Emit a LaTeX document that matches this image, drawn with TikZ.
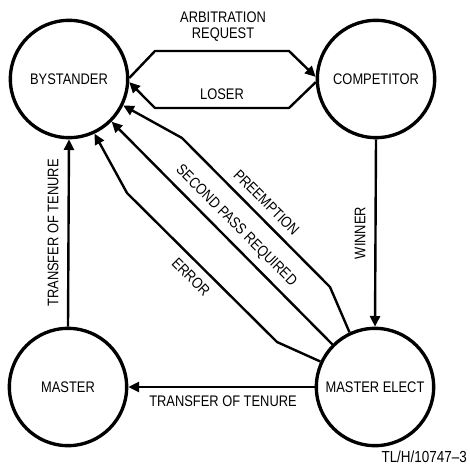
\documentclass[tikz,border=0pt]{standalone}
\usepackage{fontspec}
\setmainfont{Liberation Sans}[FakeStretch=0.84]
\usetikzlibrary{arrows.meta}
\begin{document}
\begin{tikzpicture}[x=0.75pt,y=-0.75pt,
  state/.style={circle,draw,line width=2.5pt,minimum size=88pt,inner sep=0pt,
    font=\fontsize{11.5}{13}\selectfont},
  lbl/.style={inner sep=0pt,font=\fontsize{11.5}{13}\selectfont},
  conn/.style={line width=1.8pt,line join=round,
    -{Triangle[length=8pt,width=7.5pt]}}]
\useasboundingbox (0,0) rectangle (469,470);

% states
\node[state] (bys) at (69,79) {BYSTANDER};
\node[state] (comp) at (376,79) {COMPETITOR};
\node[state] (mast) at (68,387) {MASTER};
\node[state] (elect) at (375,387) {MASTER ELECT};

% arbitration request / loser
\draw[conn] (bys.1) -- (155,51) -- (289,51) -- (comp.178);
\draw[conn] (comp.183) -- (289,108) -- (155,108) -- (bys.-3);
\node[lbl] (arb) at (223,17) {ARBITRATION};
\node[lbl] (req) at (223,35) {REQUEST};
\node[lbl] (los) at (222,94) {LOSER};

% winner
\draw[conn] (comp.south) -- (elect.north);
\node[lbl,rotate=90] (win) at (360,233) {WINNER};

% transfer of tenure
\draw[conn] (elect.west) -- (mast.east);
\node[lbl] (tt1) at (223,401) {TRANSFER OF TENURE};
\draw[conn] (mast.north) -- (bys.south);
\node[lbl,rotate=90] (tt2) at (53,233) {TRANSFER OF TENURE};

% returns to bystander
\draw[conn] (elect.115) -- (330,287) -- (182,138) -- (bys.-26);
\draw[conn] (elect.135) -- (bys.-45);
\draw[conn] (elect.155) -- (277,342) -- (127,193) -- (bys.-65);
\node[lbl,rotate=-45] (pre) at (266.5,202.5) {PREEMPTION};
\node[lbl,rotate=-45] (spr) at (236,226) {SECOND PASS REQUIRED};
\node[lbl,rotate=-45] (err) at (191,277) {ERROR};

% figure tag
\node[inner sep=0pt,anchor=east,font=\fontsize{12}{14}\selectfont] (tag) at (467,457) {TL/H/10747–3};
\end{tikzpicture}
\end{document}
